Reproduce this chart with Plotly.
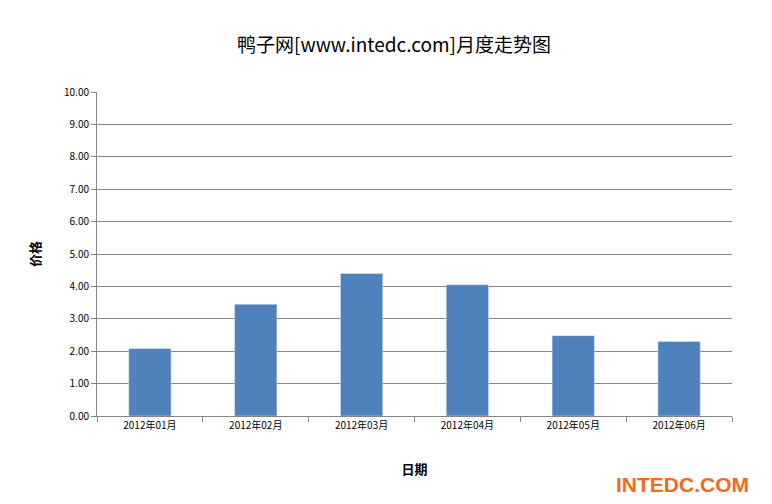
import plotly.graph_objects as go

months = ["2012年01月", "2012年02月", "2012年03月", "2012年04月", "2012年05月", "2012年06月"]
prices = [2.08, 3.45, 4.40, 4.05, 2.48, 2.30]
y_ticks = [i * 1.0 for i in range(11)]

fig = go.Figure(go.Bar(x=months, y=prices, marker_color="#4F81BD", width=0.4))

fig.update_layout(
    width=772, height=504,
    margin=dict(l=89, r=48, t=84, b=96),
    paper_bgcolor="white", plot_bgcolor="white",
    font=dict(family="Noto Sans CJK SC", size=10, color="black"),
    title=dict(text="鸭子网[www.intedc.com]月度走势图", x=0.5, xanchor="center",
               y=0.925, yanchor="middle", font=dict(size=19)),
    showlegend=False,
)
fig.update_xaxes(showline=True, linecolor="#868686", ticks="outside", ticklen=5,
                 tickcolor="#868686", showgrid=False, tickson="boundaries",
                 title=dict(text="<b>日期</b>", font=dict(size=13), standoff=33))
fig.update_yaxes(range=[0, 10], tickvals=y_ticks, tickformat=".2f",
                 showgrid=True, gridcolor="#868686", gridwidth=1,
                 showline=True, linecolor="#868686", ticks="outside", ticklen=5,
                 tickcolor="#868686", zeroline=False,
                 title=dict(text="<b>价格</b>", font=dict(size=13), standoff=20))

fig.add_annotation(text="<b>INTEDC.COM</b>", xref="paper", yref="paper",
                   x=1.03, y=-0.21, xanchor="right", yanchor="middle", showarrow=False,
                   font=dict(size=21, color="#F26B1D", family="Liberation Sans"))

fig.write_html("out.html")
